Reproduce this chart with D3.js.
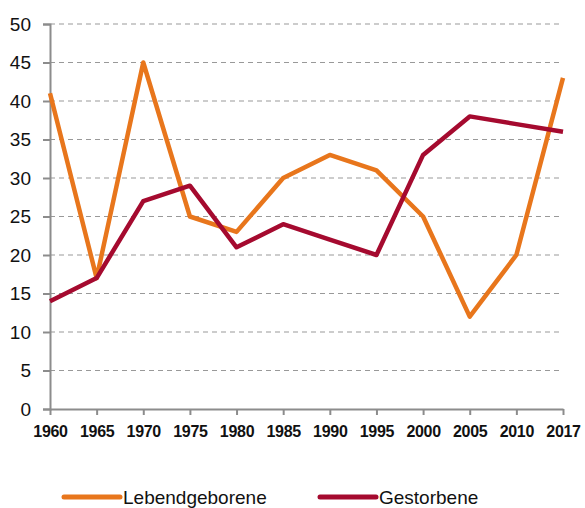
<!DOCTYPE html>
<html>
<head>
<meta charset="utf-8">
<style>
  body { margin: 0; background: #fff; }
  svg text { font-family: 'Liberation Sans', Arial, sans-serif; }
</style>
<script src="https://d3js.org/d3.v7.min.js"></script>
</head>
<body>
<svg id="chart" width="585" height="508"></svg>
<script>
var years = ["1960", "1965", "1970", "1975", "1980", "1985", "1990", "1995", "2000", "2005", "2010", "2017"];
var lebendgeborene = [41, 17, 45, 25, 23, 30, 33, 31, 25, 12, 20, 43];
var gestorbene = [14, 17, 27, 29, 21, 24, 22, 20, 33, 38, 37, 36];
var yTicks = [0, 5, 10, 15, 20, 25, 30, 35, 40, 45, 50];

var svg = d3.select("#chart");
var x = d3.scalePoint().domain(years).range([50, 563]);
var y = d3.scaleLinear().domain([0, 50]).range([409, 24]);

// gridlines
svg.append("g")
  .selectAll("line")
  .data(yTicks.filter(d => d > 0))
  .join("line")
  .attr("x1", 50).attr("x2", 563)
  .attr("y1", d => y(d)).attr("y2", d => y(d))
  .attr("stroke", "#999")
  .attr("stroke-width", 1.2)
  .attr("stroke-dasharray", "5,4");

// y axis
var yAxis = svg.append("g")
  .attr("transform", "translate(50,0)")
  .call(d3.axisLeft(y).tickValues(yTicks).tickSize(7).tickPadding(12));
yAxis.select(".domain").attr("stroke", "#8c8c8c").attr("stroke-width", 2);
yAxis.selectAll(".tick line").attr("stroke", "#8c8c8c").attr("stroke-width", 2);
yAxis.selectAll("text")
  .attr("font-family", "'Liberation Sans', Arial, sans-serif")
  .attr("font-size", 19).attr("fill", "#111");

// x axis
var xAxis = svg.append("g")
  .attr("transform", "translate(0,409)")
  .call(d3.axisBottom(x).tickSize(6).tickPadding(11).tickSizeOuter(0));
xAxis.select(".domain").attr("stroke", "#8c8c8c").attr("stroke-width", 2);
xAxis.selectAll(".tick line").attr("stroke", "#8c8c8c").attr("stroke-width", 2);
xAxis.selectAll("text")
  .attr("font-family", "'Liberation Sans', Arial, sans-serif")
  .attr("font-size", 16).attr("font-weight", "bold")
  .attr("letter-spacing", "-0.3").attr("fill", "#111");

var line = d3.line().x((d, i) => x(years[i])).y(d => y(d));

svg.append("path")
  .attr("d", line(lebendgeborene))
  .attr("fill", "none")
  .attr("stroke", "#e8761c")
  .attr("stroke-width", 4.5)
  .attr("stroke-linejoin", "round");

svg.append("path")
  .attr("d", line(gestorbene))
  .attr("fill", "none")
  .attr("stroke", "#a50a2f")
  .attr("stroke-width", 4.5)
  .attr("stroke-linejoin", "round");

// legend
var legend = [
  { name: "Lebendgeborene", color: "#e8761c", x: 64 },
  { name: "Gestorbene", color: "#a50a2f", x: 320 }
];
var lg = svg.append("g").selectAll("g").data(legend).join("g")
  .attr("transform", d => "translate(" + d.x + ",497)");
lg.append("line")
  .attr("x1", 0).attr("x2", 56)
  .attr("stroke", d => d.color)
  .attr("stroke-width", 5)
  .attr("stroke-linecap", "round");
lg.append("text")
  .attr("x", 59).attr("y", 7)
  .attr("font-size", 19).attr("fill", "#111")
  .text(d => d.name);
</script>
</body>
</html>
